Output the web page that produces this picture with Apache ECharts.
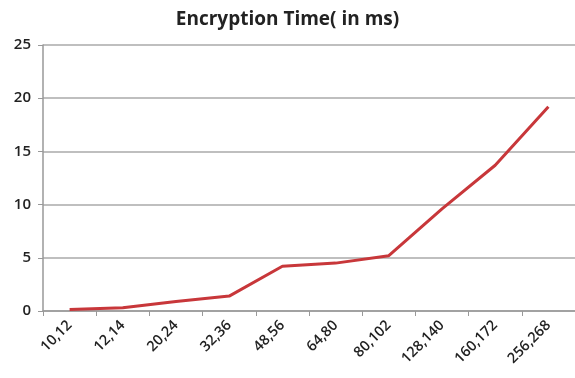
<!DOCTYPE html>
<html><head><meta charset="utf-8">
<script src="https://cdn.jsdelivr.net/npm/echarts@6/dist/echarts.min.js"></script>
<style>html,body{margin:0;padding:0;background:#fff}#c{width:575px;height:378px}</style>
</head><body><div id="c"></div>
<script>
const categories = ["10,12","12,14","20,24","32,36","48,56","64,80","80,102","128,140","160,172","256,268"];
const encryptionTime = [0.15, 0.3, 0.9, 1.4, 4.2, 4.5, 5.2, 9.6, 13.7, 19.2];
const yTicks = [0, 5, 10, 15, 20, 25];

const chart = echarts.init(document.getElementById('c'));
chart.setOption({
  animation: false,
  title: {
    text: 'Encryption Time( in ms)', left: 'center', top: 5,
    textStyle: { fontFamily: 'Open Sans', fontWeight: 'bold', fontSize: 19, color: '#222' }
  },
  grid: { left: 43, right: -1, top: 45, bottom: 67, containLabel: false },
  xAxis: {
    type: 'category', data: categories, boundaryGap: true,
    axisLine: { lineStyle: { color: '#999', width: 1.5 } },
    axisTick: { show: true, length: 5, lineStyle: { color: '#999' } },
    axisLabel: { rotate: 45, margin: 12, fontFamily: 'Open Sans', fontSize: 14.5, fontWeight: 600, color: '#222' }
  },
  yAxis: {
    type: 'value', min: 0, max: 25, interval: 5,
    axisLine: { show: true, lineStyle: { color: '#999', width: 1.5 } },
    axisTick: { show: true, length: 5, lineStyle: { color: '#999' } },
    splitLine: { lineStyle: { color: '#aaa', width: 1.5 } },
    axisLabel: { margin: 12, fontFamily: 'Open Sans', fontSize: 15, fontWeight: 600, color: '#222',
      formatter: v => yTicks.includes(v) ? String(v) : '' }
  },
  series: [{
    type: 'line', data: encryptionTime, symbol: 'none',
    lineStyle: { color: '#c8373a', width: 3 }
  }]
});
</script></body></html>
